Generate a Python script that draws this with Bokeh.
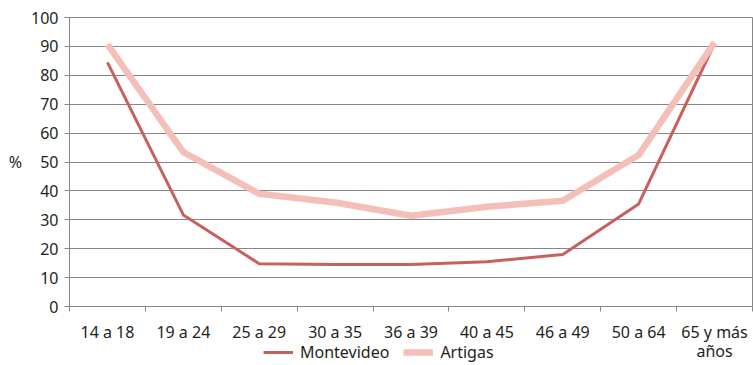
from bokeh.plotting import figure
from bokeh.layouts import column
from bokeh.models import FixedTicker, Legend, LegendItem, Range1d
from bokeh.embed import file_html
from bokeh.resources import INLINE

categories = ["14 a 18", "19 a 24", "25 a 29", "30 a 35", "36 a 39",
              "40 a 45", "46 a 49", "50 a 64", "65 y más\naños"]
montevideo = [84.5, 31.7, 14.8, 14.5, 14.5, 15.5, 18.0, 35.5, 91.0]
artigas = [90.7, 53.4, 39.0, 36.0, 31.4, 34.5, 36.6, 52.4, 91.4]
y_ticks = list(range(0, 101, 10))
series_names = ["Montevideo", "Artigas"]

FONT = "Noto Sans"
TXT = "#231f20"
GRID = "#878787"
FS = "16px"
C_MONT = "#c8605c"
C_ART = "#f4bfb8"

xs = list(range(len(categories)))

p = figure(width=753, height=365, output_backend="svg", toolbar_location=None,
           x_range=Range1d(-0.5, len(categories) - 0.5), y_range=Range1d(0, 100),
           min_border_left=69, min_border_top=17, min_border_bottom=55,
           min_border_right=1)
p.outline_line_color = GRID
p.outline_line_width = 1

p.line(xs, montevideo, line_color=C_MONT, line_width=3)
p.line(xs, artigas, line_color=C_ART, line_width=6.5)

# axes
p.xaxis.ticker = FixedTicker(ticks=xs, minor_ticks=[i - 0.5 for i in range(len(categories) + 1)])
p.xaxis.major_label_overrides = {i: c for i, c in enumerate(categories)}
p.xaxis.major_tick_line_color = None
p.xaxis.minor_tick_line_color = GRID
p.xaxis.minor_tick_in = 0
p.xaxis.minor_tick_out = 5
p.xaxis.axis_line_color = GRID
p.xaxis.major_label_text_font = FONT
p.xaxis.major_label_text_font_size = FS
p.xaxis.major_label_text_color = TXT
p.xaxis.major_label_text_line_height = 0.9
p.xaxis.major_label_standoff = 8

p.yaxis.ticker = FixedTicker(ticks=y_ticks)
p.yaxis.minor_tick_line_color = None
p.yaxis.major_tick_line_color = GRID
p.yaxis.major_tick_in = 0
p.yaxis.major_tick_out = 5
p.yaxis.axis_line_color = GRID
p.yaxis.major_label_text_font = FONT
p.yaxis.major_label_text_font_size = FS
p.yaxis.major_label_text_color = TXT
p.yaxis.major_label_standoff = 6
p.yaxis.axis_label = "%"
p.yaxis.axis_label_orientation = "horizontal"
p.yaxis.axis_label_text_font = FONT
p.yaxis.axis_label_text_font_size = FS
p.yaxis.axis_label_text_font_style = "normal"
p.yaxis.axis_label_text_color = TXT
p.yaxis.axis_label_standoff = 6

p.xgrid.grid_line_color = None
p.ygrid.grid_line_color = GRID
p.ygrid.grid_line_width = 1.2

# legend strip, overlapping the bottom of the chart (its lines lie outside its view)
lg = figure(width=753, height=24, output_backend="svg", toolbar_location=None,
            min_border_left=0, min_border_right=0, min_border_top=0,
            min_border_bottom=0,
            x_range=Range1d(-0.5, len(categories) - 0.5), y_range=Range1d(1000, 1001),
            x_axis_location=None, y_axis_location=None,
            margin=(-24, 0, 0, 0))
lg.grid.visible = False
lg.outline_line_color = None
lg.background_fill_color = None
lg.border_fill_color = None
d1 = lg.line(xs, montevideo, line_color=C_MONT, line_width=3)
d2 = lg.line(xs, artigas, line_color=C_ART, line_width=6.5)
legend = Legend(items=[LegendItem(label=series_names[0], renderers=[d1]),
                       LegendItem(label=series_names[1], renderers=[d2])],
                location=(194, 2), orientation="horizontal",
                background_fill_alpha=0, border_line_color=None,
                label_text_font=FONT, label_text_font_size=FS,
                label_text_color=TXT, glyph_width=30, spacing=14,
                label_standoff=7, padding=0, margin=0)
lg.add_layout(legend, "center")

layout = column(p, lg, spacing=0)
open("out.html", "w").write(file_html(layout, INLINE))
